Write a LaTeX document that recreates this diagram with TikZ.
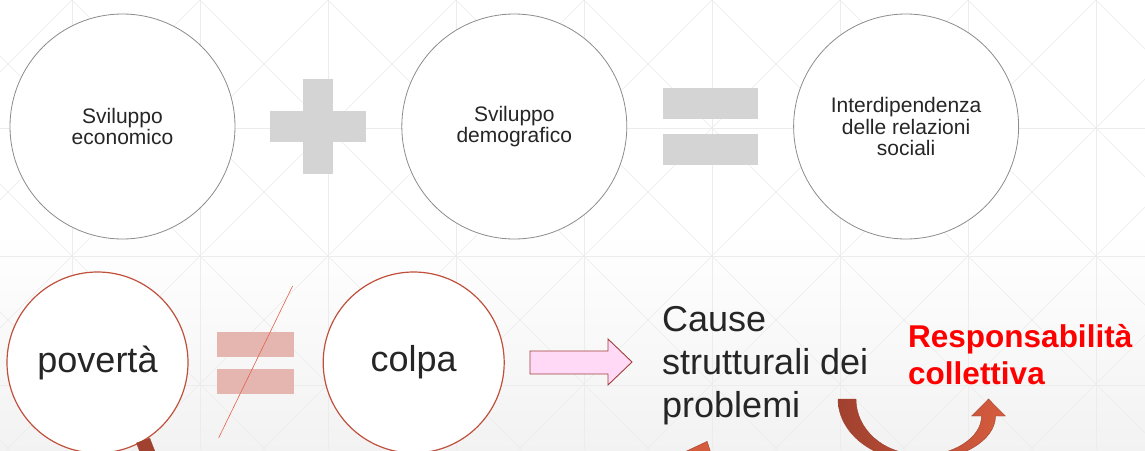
\documentclass[tikz,border=0pt]{standalone}
\usepackage{fontspec}
\setmainfont{Liberation Sans}
\usetikzlibrary{positioning, calc}
\definecolor{ringgray}{RGB}{140,140,140}
\definecolor{signgray}{RGB}{212,212,212}
\definecolor{ringred}{RGB}{192,80,60}
\definecolor{neqpink}{RGB}{229,182,176}
\definecolor{slashred}{RGB}{228,96,74}
\definecolor{blockpink}{RGB}{255,217,246}
\definecolor{blockedge}{RGB}{160,62,58}
\definecolor{turndark}{RGB}{160,65,47}
\definecolor{turnlight}{RGB}{214,92,62}
\definecolor{txt}{RGB}{38,38,38}
\definecolor{gridline}{RGB}{236,236,236}
\tikzset{
        topring/.style={circle, draw=ringgray, line width=0.8pt, fill=white, minimum size=225pt, inner sep=0pt, align=center, text=txt, font=\fontsize{21}{21.5}\selectfont},
        lowring/.style={circle, draw=ringred, line width=1.2pt, fill=white, minimum size=181pt, inner sep=0pt, text=txt, font=\fontsize{36}{43}\selectfont},
        signbar/.style={rectangle, fill=signgray, inner sep=0pt},
        neqbar/.style={rectangle, fill=neqpink, inner sep=0pt, minimum width=77pt, minimum height=25pt},
        turnarrow/.style={left color=turndark, right color=turnlight, draw=turndark, line width=0.4pt},
        bggrid/.style={draw=gridline, line width=0.6pt}
        }

\begin{document}
\begin{tikzpicture}[x=1pt, y=-1pt]
        \useasboundingbox (0,0) rectangle (1145,450);
        \clip (0,0) rectangle (1145,450);
        % background
        \fill[white] (0,0) rectangle (1145,450);
        \shade[top color=white, bottom color=black!5] (0,230) rectangle (1145,450);
        \foreach \gx in {72,200,...,1096} \draw[bggrid] (\gx,0) -- (\gx,450);
        \foreach \gy in {128.3,256.6,384.9} \draw[bggrid] (0,\gy) -- (1145,\gy);
        \foreach \gc in {-440,-312,...,1608} {
          \draw[bggrid] (\gc,0) -- ++(450,450);
          \draw[bggrid] (\gc,0) -- ++(-450,450);
        }

        % top row
        \node[topring] (eco) at (122.5,126.5) {Sviluppo\\economico};
        \node[topring, right=166pt of eco] (demo) {Sviluppo\\demografico};
        \node[topring, right=166pt of demo] (soc) {Interdipendenza\\delle relazioni\\sociali};
        \node[signbar, minimum width=96pt, minimum height=31pt] (plush) at ($(eco)!0.5!(demo)$) {};
        \node[signbar, minimum width=30pt, minimum height=95pt] (plusv) at (plush) {};
        \node[signbar, minimum width=95pt, minimum height=31pt, yshift=23pt] (eqa) at ($(demo)!0.5!(soc)$) {};
        \node[signbar, minimum width=95pt, minimum height=31pt, yshift=-23pt] (eqb) at ($(demo)!0.5!(soc)$) {};

        % bottom row
        \node[lowring] (pov) at (97.5,362.5) {povertà};
        \node[lowring, right=134pt of pov] (colpa) {colpa};
        \coordinate (neq) at ($(pov)!0.5!(colpa)$);
        \node[neqbar, yshift=18.5pt] (neqa) at (neq) {};
        \node[neqbar, yshift=-18.5pt] (neqb) at (neq) {};
        \draw[slashred, line width=0.6pt] ($(neq)+(37,-76.5)$) -- ($(neq)+(-37,75.5)$);

        \draw[blockedge, fill=blockpink, line width=0.9pt] (530,351) -- (608,351) -- (608,339) -- (632,362) -- (608,385) -- (608,374) -- (530,374) -- cycle;

        \node[anchor=west, align=left, text=txt, font=\fontsize{36}{43}\selectfont, inner sep=0pt] (cause) at (662,366) {Cause\\strutturali dei\\problemi};
        \node[anchor=west, align=left, text=red, font=\fontsize{31.5}{37}\selectfont\bfseries, inner sep=0pt] (resp) at (908,355) {Responsabilità\\collettiva};

        % curved arrows
        \path[turnarrow] (136.5,443) arc[start angle=160, end angle=23.4, radius=307] -- (714.2,463) -- (707.1,441.4) -- (686.6,451) -- (694,454.3) arc[start angle=23.4, end angle=160, radius=293] -- cycle;
        \path[turnarrow] (838,399) arc[start angle=180, end angle=90, x radius=79.75, y radius=62] arc[start angle=90, end angle=0, x radius=77.75, y radius=45] -- (1005.3,416) -- (988.5,399) -- (971.7,416) -- (981.5,416) arc[start angle=0, end angle=90, x radius=63.75, y radius=40] -- (917.75,454) arc[start angle=90, end angle=180, x radius=61.75, y radius=55] -- cycle;
\end{tikzpicture}
\end{document}
